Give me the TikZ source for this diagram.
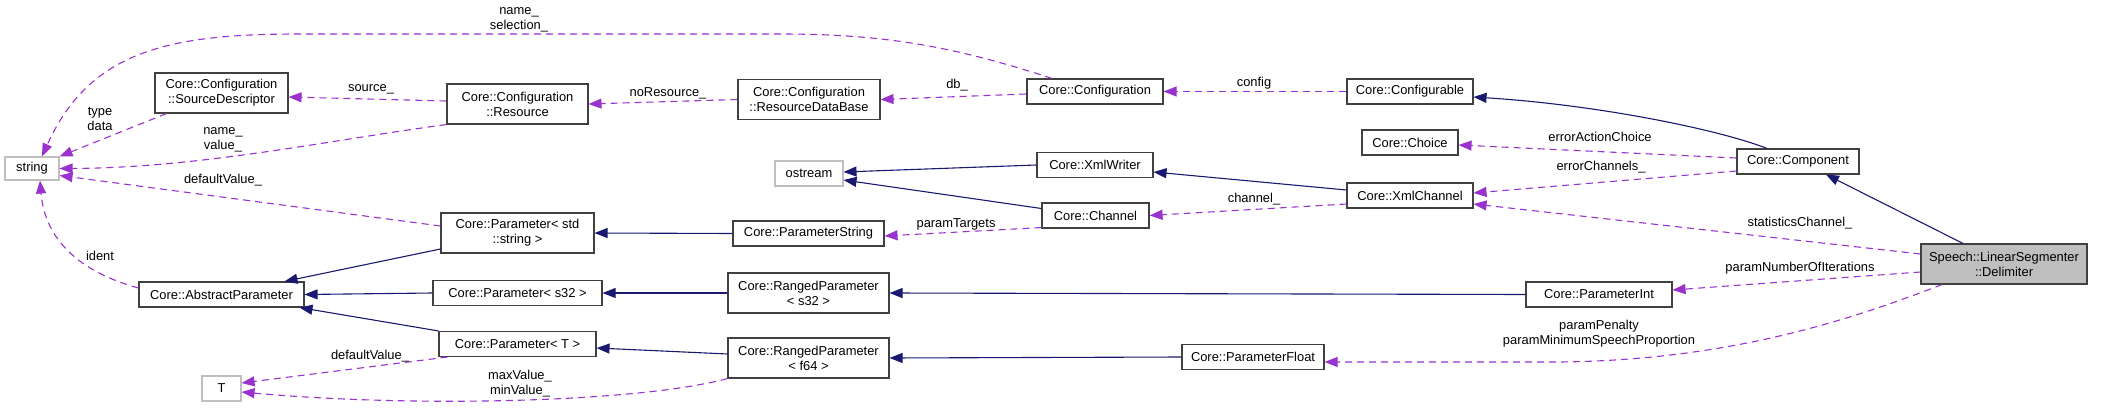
\documentclass[tikz,border=0pt]{standalone}
\usepackage{fontspec}
\setmainfont{Liberation Sans}
\usetikzlibrary{arrows.meta}

\definecolor{edgeblue}{HTML}{191970}
\definecolor{edgepurple}{HTML}{9A32CD}
\definecolor{boxgray}{HTML}{404040}
\definecolor{extgray}{HTML}{BFBFBF}

\begin{document}
\begin{tikzpicture}[x=1pt, y=-1pt,
	cls/.style = {draw=boxgray, line width=1.1pt, fill=white, font=\fontsize{12.9}{15}\selectfont, align=center, inner sep=0pt, minimum height=25pt},
	two/.style = {minimum height=40pt},
	ext/.style = {cls, draw=extgray},
	lbl/.style = {font=\fontsize{12.9}{15}\selectfont, align=center, inner sep=0pt},
	inherit/.style = {draw=edgeblue, line width=1.1pt, -{Triangle[length=13pt,width=10pt]}},
	member/.style = {draw=edgepurple, line width=1.1pt, dash pattern=on 7pt off 5pt, -{Triangle[length=13pt,width=10pt]}}]
				\useasboundingbox (0,0) rectangle (2111,409);

				\node[ext, minimum width=54pt, minimum height=23pt] (str) at (32,168.5) {string};
				\node[cls, two, minimum width=133pt] (srcdesc) at (221.5,93) {Core::Configuration\\::SourceDescriptor};
				\node[cls, two, minimum width=141pt] (resource) at (517.5,104) {Core::Configuration\\::Resource};
				\node[cls, two, minimum width=142pt] (resdb) at (809,99.5) {Core::Configuration\\::ResourceDataBase};
				\node[cls, minimum width=136pt] (cfg) at (1095,91.5) {Core::Configuration};
				\node[cls, minimum width=126pt] (cfgable) at (1410,91.5) {Core::Configurable};
				\node[cls, minimum width=96pt] (choice) at (1410,142.5) {Core::Choice};
				\node[cls, minimum width=122pt] (comp) at (1798,161.5) {Core::Component};
				\node[cls, two, minimum width=166pt, fill=extgray] (delim) at (2004,264) {Speech::LinearSegmenter\\::Delimiter};
				\node[ext, minimum width=68pt] (ostr) at (809,173.5) {ostream};
				\node[cls, minimum width=116pt] (xmlw) at (1095,165) {Core::XmlWriter};
				\node[cls, minimum width=126pt] (xmlch) at (1410,195.5) {Core::XmlChannel};
				\node[cls, minimum width=107pt] (chan) at (1095.5,215.5) {Core::Channel};
				\node[cls, two, minimum width=153pt] (pstr) at (517.5,233) {Core::Parameter< std\\::string >};
				\node[cls, minimum width=151pt] (pstring) at (808.5,233.5) {Core::ParameterString};
				\node[cls, minimum width=165pt] (absp) at (221.5,294.5) {Core::AbstractParameter};
				\node[cls, minimum width=169pt] (ps32) at (517.5,293) {Core::Parameter< s32 >};
				\node[cls, two, minimum width=161pt] (rps32) at (808.5,293) {Core::RangedParameter\\< s32 >};
				\node[cls, minimum width=146pt] (pint) at (1599,294.5) {Core::ParameterInt};
				\node[cls, minimum width=157pt] (pT) at (517.5,344) {Core::Parameter< T >};
				\node[cls, two, minimum width=161pt] (rpf64) at (808.5,358) {Core::RangedParameter\\< f64 >};
				\node[cls, minimum width=142pt] (pfloat) at (1253,357) {Core::ParameterFloat};
				\node[ext, minimum width=39pt] (tT) at (221.5,388.5) {T};

				\draw[inherit] ([xshift=-31pt]comp.north) .. controls (1720,130) and (1600,105) .. ([yshift=-5.5pt]cfgable.east);
				\draw[inherit] ([xshift=-41pt]delim.north) -- ([xshift=28pt]comp.south);
				\draw[inherit] (xmlw.west) -- ([yshift=1.5pt]ostr.east);
				\draw[inherit] ([yshift=7pt]chan.west) -- ([yshift=-6.5pt]ostr.east);
				\draw[inherit] ([yshift=5.5pt]xmlch.west) -- ([yshift=-7pt]xmlw.east);
				\draw[inherit] (pstring.west) -- (pstr.east);
				\draw[inherit] ([yshift=-16pt]pstr.west) -- ([xshift=63pt]absp.north);
				\draw[inherit] (ps32.west) -- (absp.east);
				\draw[inherit] (pT.north west) -- ([xshift=78pt]absp.south);
				\draw[inherit] (rps32.west) -- (ps32.east);
				\draw[inherit] ([yshift=4pt]rpf64.west) -- ([yshift=-4pt]pT.east);
				\draw[inherit] (pint.west) -- (rps32.east);
				\draw[inherit] (pfloat.west) -- (rpf64.east);

				\draw[member] ([xshift=-43pt]cfg.north) .. controls (950,45) and (880,34) .. (780,34) -- (300,34) .. controls (170,34) and (90,50) .. ([xshift=10pt]str.north);
				\node[lbl] (lnamesel) at (519,19.5) {name\_\\selection\_};
				\draw[member] ([xshift=-55pt]srcdesc.south) -- (str.north east);
				\node[lbl] (ltypedata) at (100,119) {type\\data};
				\draw[member] (resource.south west) .. controls (330,140) and (200,168) .. (str.east);
				\node[lbl] (lnameval) at (223,140) {name\_\\value\_};
				\draw[member] ([yshift=7pt]pstr.west) -- ([yshift=-7pt]str.east);
				\node[lbl] (ldefstr) at (223,180) {defaultValue\_};
				\draw[member] ([yshift=6.5pt]absp.west) .. controls (80,272) and (45,240) .. ([xshift=8pt]str.south);
				\node[lbl] (lident) at (100,256) {ident};
				\draw[member] ([yshift=3pt]resource.west) -- ([yshift=-4pt]srcdesc.east);
				\node[lbl] (lsource) at (371,89) {source\_};
				\draw[member] (resdb.west) -- (resource.east);
				\node[lbl] (lnores) at (668,93) {noResource\_};
				\draw[member] ([yshift=-2.5pt]cfg.west) -- (resdb.east);
				\node[lbl] (ldb) at (957,85) {db\_};
				\draw[member] (cfgable.west) -- (cfg.east);
				\node[lbl] (lconfig) at (1254,83) {config};
				\draw[member] ([yshift=3.5pt]comp.west) -- ([yshift=-2.5pt]choice.east);
				\node[lbl] (lerrchoice) at (1600,137) {errorActionChoice};
				\draw[member] ([yshift=-9.5pt]comp.west) -- ([yshift=2.5pt]xmlch.east);
				\node[lbl] (lerrchan) at (1601,167) {errorChannels\_};
				\draw[member] ([yshift=10pt]delim.west) -- ([yshift=-8.5pt]xmlch.east);
				\node[lbl] (lstatchan) at (1800,223) {statisticsChannel\_};
				\draw[member] ([yshift=-8.5pt]xmlch.west) -- (chan.east);
				\node[lbl] (lchannel) at (1254,199) {channel\_};
				\draw[member] ([yshift=1pt]chan.south west) -- ([yshift=-2.5pt]pstring.east);
				\node[lbl] (ltargets) at (956,224) {paramTargets};
				\draw[member] ([yshift=-8pt]delim.west) -- ([yshift=4.5pt]pint.east);
				\node[lbl] (liter) at (1800,268) {paramNumberOfIterations};
				\draw[member] ([xshift=-62pt]delim.south) .. controls (1850,320) and (1730,360) .. (1560,362) -- ([yshift=-5pt]pfloat.east);
				\node[lbl] (lpenalty) at (1599,334) {paramPenalty\\paramMinimumSpeechProportion};
				\draw[member] ([xshift=9pt]pT.south west) -- ([yshift=5.5pt]tT.east);
				\node[lbl] (ldefT) at (370,356) {defaultValue\_};
				\draw[member] (rpf64.south west) .. controls (640,402) and (420,408) .. ([yshift=-3.5pt]tT.east);
				\node[lbl] (lminmax) at (520,384) {maxValue\_\\minValue\_};
			\end{tikzpicture}
\end{document}
